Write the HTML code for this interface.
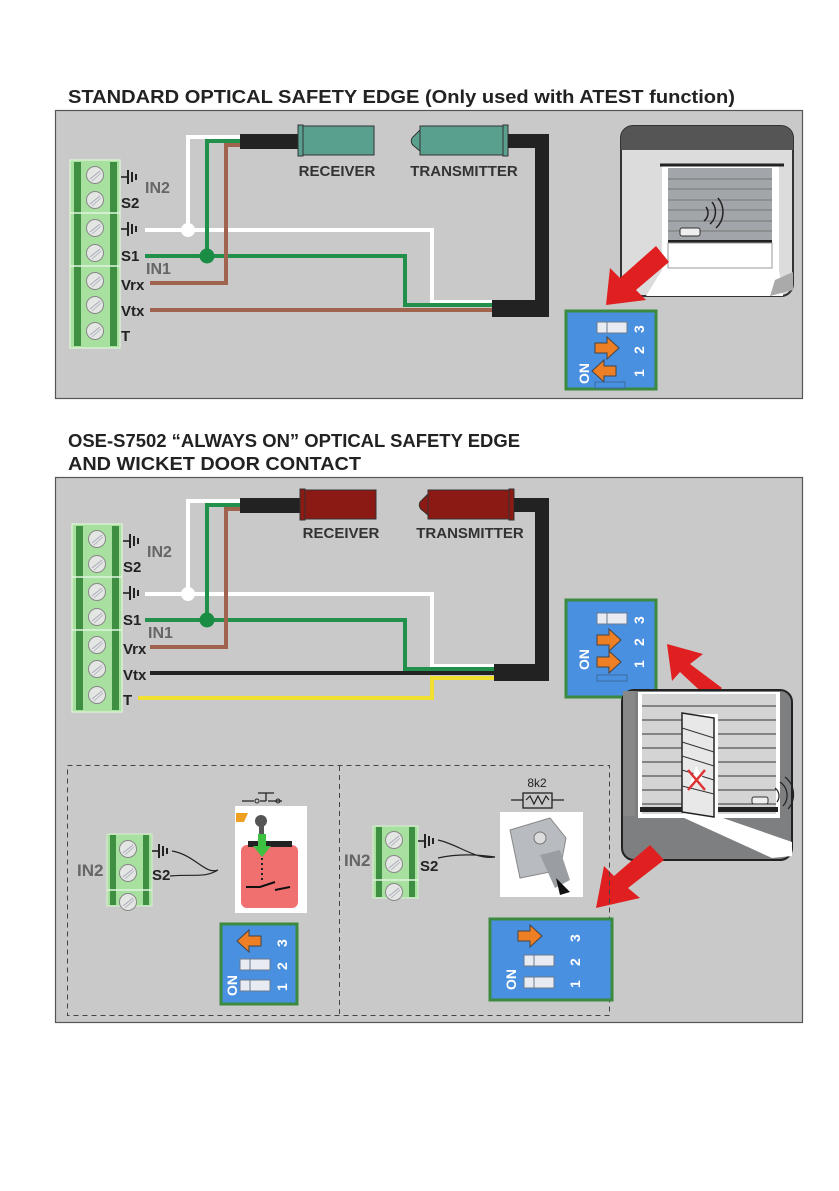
<!DOCTYPE html>
<html><head><meta charset="utf-8"><style>
html,body{margin:0;padding:0;background:#fff}
svg{display:block}
text{font-family:"Liberation Sans",sans-serif}
</style></head><body>
<svg width="839" height="1191" viewBox="0 0 839 1191" xmlns="http://www.w3.org/2000/svg">
<defs>
<g id="screw"><circle r="8.5" fill="#e4e6e4" stroke="#888" stroke-width="1"/><line x1="-5" y1="4" x2="5" y2="-4" stroke="#aab" stroke-width="1"/><line x1="-3" y1="6" x2="6" y2="-2" stroke="#aab" stroke-width="0.8"/></g>
<g id="gnd"><line x1="0" y1="0" x2="7" y2="0" stroke="#222" stroke-width="1.6"/><line x1="7" y1="-7" x2="7" y2="7" stroke="#222" stroke-width="2"/><line x1="11" y1="-5" x2="11" y2="5" stroke="#222" stroke-width="2"/><line x1="15" y1="-3" x2="15" y2="3" stroke="#222" stroke-width="2"/></g>
<g id="arrR"><polygon points="0,-5 12,-5 12,-11 24,0 12,11 12,5 0,5" fill="#ef7f24" stroke="#444" stroke-width="1"/></g>
<g id="arrL"><polygon points="24,-5 12,-5 12,-11 0,0 12,11 12,5 24,5" fill="#ef7f24" stroke="#444" stroke-width="1"/></g>
<g id="slide"><rect x="0" y="-5" width="30" height="11" fill="#e8ecf2" stroke="#6a7a90" stroke-width="1"/><line x1="10" y1="-5" x2="10" y2="6" stroke="#6a7a90"/></g>
</defs>

<!-- titles -->
<text x="68" y="103" font-size="18" font-weight="bold" fill="#222" textLength="667" lengthAdjust="spacingAndGlyphs">STANDARD OPTICAL SAFETY EDGE (Only used with ATEST function)</text>
<text x="68" y="447" font-size="18" font-weight="bold" fill="#222" textLength="452" lengthAdjust="spacingAndGlyphs">OSE-S7502 “ALWAYS ON” OPTICAL SAFETY EDGE</text>
<text x="68" y="470" font-size="18" font-weight="bold" fill="#222" textLength="293" lengthAdjust="spacingAndGlyphs">AND WICKET DOOR CONTACT</text>

<!-- PANEL 1 -->
<rect x="55.5" y="110.5" width="747" height="288" fill="#c8c9c8" stroke="#555" stroke-width="1.2"/>
<!-- terminal block 1 -->
<g>
<rect x="70" y="160" width="50" height="188" fill="#a8e0a0" stroke="#d8f0d0" stroke-width="1.5"/>
<rect x="74" y="162" width="7" height="184" fill="#3f8f42"/>
<rect x="110" y="162" width="7" height="184" fill="#3f8f42"/>
<line x1="70" y1="213" x2="120" y2="213" stroke="#e0f5e0" stroke-width="1.5"/>
<line x1="70" y1="266" x2="120" y2="266" stroke="#e0f5e0" stroke-width="1.5"/>
<use href="#screw" x="95" y="175"/><use href="#screw" x="95" y="200"/><use href="#screw" x="95" y="228"/><use href="#screw" x="95" y="253"/><use href="#screw" x="95" y="281"/><use href="#screw" x="95" y="305"/><use href="#screw" x="95" y="331"/>
</g>
<use href="#gnd" x="121" y="177"/><use href="#gnd" x="121" y="229"/>
<text x="145" y="193" font-size="16" font-weight="bold" fill="#666">IN2</text>
<text x="121" y="208" font-size="15" font-weight="bold" fill="#222">S2</text>
<text x="121" y="261" font-size="15" font-weight="bold" fill="#222">S1</text>
<text x="146" y="274" font-size="16" font-weight="bold" fill="#666">IN1</text>
<text x="121" y="290" font-size="15" font-weight="bold" fill="#222">Vrx</text>
<text x="121" y="316" font-size="15" font-weight="bold" fill="#222">Vtx</text>
<text x="121" y="341" font-size="15" font-weight="bold" fill="#222">T</text>
<!-- wires -->
<polyline points="145,230 432,230 432,302 495,302" fill="none" stroke="#fff" stroke-width="4"/>
<polyline points="188,230 188,137 242,137" fill="none" stroke="#fff" stroke-width="4"/>
<circle cx="188" cy="230" r="7" fill="#fff"/>
<polyline points="145,256 405,256 405,305 495,305" fill="none" stroke="#21904a" stroke-width="4"/>
<polyline points="207,256 207,141 242,141" fill="none" stroke="#21904a" stroke-width="4"/>
<circle cx="207" cy="256" r="7.5" fill="#1b8c44"/>
<polyline points="150,283 226,283 226,145 242,145" fill="none" stroke="#a0634e" stroke-width="4"/>
<line x1="150" y1="310" x2="495" y2="310" stroke="#a0634e" stroke-width="4"/>
<!-- cable -->
<rect x="240" y="134" width="62" height="15" fill="#222"/>
<rect x="300" y="126" width="74" height="29" fill="#5aa08f" stroke="#333"/>
<rect x="298" y="125" width="5" height="31" fill="#5aa08f" stroke="#333"/>
<path d="M420,130 L414,136 A6,6 0 0 0 414,146 L420,151 Z" fill="#5aa08f" stroke="#333"/>
<rect x="420" y="126" width="86" height="29" fill="#5aa08f" stroke="#333"/>
<rect x="503" y="125" width="5" height="31" fill="#5aa08f" stroke="#333"/>
<polyline points="508,141 542,141 542,307" fill="none" stroke="#222" stroke-width="14"/>
<rect x="492" y="300" width="57" height="17" fill="#222"/>
<text x="337" y="176" font-size="15" font-weight="bold" fill="#333" text-anchor="middle">RECEIVER</text>
<text x="464" y="176" font-size="15" font-weight="bold" fill="#333" text-anchor="middle">TRANSMITTER</text>
<!-- door 1 -->
<rect x="621" y="126" width="172" height="170" rx="12" fill="#dcdcdc" stroke="#333" stroke-width="2"/>
<path d="M621,150 L621,138 A12,12 0 0 1 633,126 L781,126 A12,12 0 0 1 793,138 L793,150 Z" fill="#555"/>
<rect x="662" y="165" width="117" height="105" fill="#fff"/>
<polygon points="662,270 779,270 783,296 646,296" fill="#fff"/>
<polygon points="775,280 793,272 793,290 770,296" fill="#aaa"/>
<rect x="668" y="168" width="104" height="72" fill="#a2a5a9"/>
<g stroke="#777" stroke-width="1"><line x1="668" y1="179" x2="772" y2="179"/><line x1="668" y1="189" x2="772" y2="189"/><line x1="668" y1="200" x2="772" y2="200"/><line x1="668" y1="210" x2="772" y2="210"/><line x1="668" y1="221" x2="772" y2="221"/><line x1="668" y1="231" x2="772" y2="231"/></g>
<rect x="668" y="240" width="104" height="3" fill="#222"/>
<rect x="668" y="243" width="104" height="25" fill="#fff" stroke="#999"/>
<line x1="660" y1="165" x2="784" y2="165" stroke="#222" stroke-width="3"/>
<rect x="680" y="228" width="20" height="8" rx="2" fill="#eee" stroke="#333"/>
<path d="M704,221 A10,10 0 0 0 706,207 M710,224 A16,16 0 0 0 712,202 M716,228 A22,22 0 0 0 718,198" fill="none" stroke="#222" stroke-width="1.5"/>
<polygon points="656,246 669,262 636,290 646,300 606,305 610,268 620,278" fill="#e02020"/>
<!-- DIP 1 -->
<rect x="566" y="311" width="90" height="78" fill="#4a90e0" stroke="#3a8a40" stroke-width="3"/>
<use href="#slide" x="597" y="327"/>
<use href="#arrR" x="595" y="348"/>
<use href="#arrL" x="592" y="371"/>
<rect x="595" y="382" width="30" height="6" fill="none" stroke="#3a6aa0" stroke-width="1"/>
<g font-size="14" font-weight="bold" fill="#fff">
<text transform="translate(644,333) rotate(-90)">3</text>
<text transform="translate(644,354) rotate(-90)">2</text>
<text transform="translate(644,377) rotate(-90)">1</text>
<text transform="translate(589,384) rotate(-90)">ON</text>
</g>

<!-- PANEL 2 -->
<rect x="55.5" y="477.5" width="747" height="545" fill="#c8c9c8" stroke="#555" stroke-width="1.2"/>
<g transform="translate(2,364)">
<rect x="70" y="160" width="50" height="188" fill="#a8e0a0" stroke="#d8f0d0" stroke-width="1.5"/>
<rect x="74" y="162" width="7" height="184" fill="#3f8f42"/>
<rect x="110" y="162" width="7" height="184" fill="#3f8f42"/>
<line x1="70" y1="213" x2="120" y2="213" stroke="#e0f5e0" stroke-width="1.5"/>
<line x1="70" y1="266" x2="120" y2="266" stroke="#e0f5e0" stroke-width="1.5"/>
<use href="#screw" x="95" y="175"/><use href="#screw" x="95" y="200"/><use href="#screw" x="95" y="228"/><use href="#screw" x="95" y="253"/><use href="#screw" x="95" y="281"/><use href="#screw" x="95" y="305"/><use href="#screw" x="95" y="331"/>
<use href="#gnd" x="121" y="177"/><use href="#gnd" x="121" y="229"/>
<text x="145" y="193" font-size="16" font-weight="bold" fill="#666">IN2</text>
<text x="121" y="208" font-size="15" font-weight="bold" fill="#222">S2</text>
<text x="121" y="261" font-size="15" font-weight="bold" fill="#222">S1</text>
<text x="146" y="274" font-size="16" font-weight="bold" fill="#666">IN1</text>
<text x="121" y="290" font-size="15" font-weight="bold" fill="#222">Vrx</text>
<text x="121" y="316" font-size="15" font-weight="bold" fill="#222">Vtx</text>
<text x="121" y="341" font-size="15" font-weight="bold" fill="#222">T</text>
<polyline points="143,230 430,230 430,302 493,302" fill="none" stroke="#fff" stroke-width="4"/>
<polyline points="186,230 186,137 240,137" fill="none" stroke="#fff" stroke-width="4"/>
<circle cx="186" cy="230" r="7" fill="#fff"/>
<polyline points="143,256 403,256 403,305 493,305" fill="none" stroke="#21904a" stroke-width="4"/>
<polyline points="205,256 205,141 240,141" fill="none" stroke="#21904a" stroke-width="4"/>
<circle cx="205" cy="256" r="7.5" fill="#1b8c44"/>
<polyline points="148,283 224,283 224,145 240,145" fill="none" stroke="#a0634e" stroke-width="4"/>
<line x1="148" y1="309" x2="493" y2="309" stroke="#222" stroke-width="4"/>
<polyline points="136,334 430,334 430,314 493,314" fill="none" stroke="#f2e030" stroke-width="4"/>
<rect x="238" y="134" width="62" height="15" fill="#222"/>
<rect x="300" y="126" width="74" height="29" fill="#8c1a14" stroke="#333"/>
<rect x="298" y="125" width="5" height="31" fill="#8c1a14" stroke="#333"/>
<path d="M426,130 L420,136 A6,6 0 0 0 420,146 L426,151 Z" fill="#8c1a14" stroke="#333"/>
<rect x="426" y="126" width="84" height="29" fill="#8c1a14" stroke="#333"/>
<rect x="507" y="125" width="5" height="31" fill="#8c1a14" stroke="#333"/>
<polyline points="512,141 540,141 540,307" fill="none" stroke="#222" stroke-width="14"/>
<rect x="492" y="300" width="55" height="17" fill="#222"/>
<text x="339" y="174" font-size="15" font-weight="bold" fill="#333" text-anchor="middle">RECEIVER</text>
<text x="468" y="174" font-size="15" font-weight="bold" fill="#333" text-anchor="middle">TRANSMITTER</text>
</g>
<!-- DIP 2 -->
<rect x="566" y="600" width="90" height="97" fill="#4a90e0" stroke="#3a8a40" stroke-width="3"/>
<use href="#slide" x="597" y="618"/>
<use href="#arrR" x="597" y="640"/>
<use href="#arrR" x="597" y="662"/>
<rect x="597" y="675" width="30" height="6" fill="none" stroke="#3a6aa0"/>
<g font-size="14" font-weight="bold" fill="#fff">
<text transform="translate(644,624) rotate(-90)">3</text>
<text transform="translate(644,646) rotate(-90)">2</text>
<text transform="translate(644,668) rotate(-90)">1</text>
<text transform="translate(589,670) rotate(-90)">ON</text>
</g>
<polygon points="722,688 690,664 703,654 667,644 672,681 680,672 710,700" fill="#e02020"/>
<!-- door 2 -->
<rect x="622" y="690" width="170" height="170" rx="12" fill="#7d7f80" stroke="#222" stroke-width="2"/>
<rect x="623" y="691" width="12" height="125" fill="#888"/>
<rect x="638" y="692" width="142" height="126" fill="#fff"/>
<rect x="642" y="694" width="134" height="120" fill="#d4d4d4"/>
<g stroke="#333" stroke-width="1"><line x1="642" y1="706" x2="776" y2="706"/><line x1="642" y1="720" x2="776" y2="720"/><line x1="642" y1="734" x2="776" y2="734"/><line x1="642" y1="748" x2="776" y2="748"/><line x1="642" y1="762" x2="776" y2="762"/><line x1="642" y1="776" x2="776" y2="776"/><line x1="642" y1="790" x2="776" y2="790"/><line x1="642" y1="804" x2="776" y2="804"/></g>
<rect x="640" y="807" width="138" height="5" fill="#222"/>
<polygon points="682,817 720,817 792,842 792,856 772,858" fill="#fff"/>
<polygon points="684,714 718,714 718,816 684,818" fill="#fff"/>
<polygon points="682,713 714,718 714,817 682,812" fill="#e8e8e8" stroke="#222" stroke-width="1.5"/>
<g stroke="#333"><line x1="682" y1="728" x2="714" y2="738"/><line x1="682" y1="742" x2="714" y2="752"/><line x1="682" y1="756" x2="714" y2="766"/><line x1="682" y1="770" x2="714" y2="780"/><line x1="682" y1="786" x2="714" y2="794"/></g>
<polygon points="696,766 704,780 690,784" fill="#fff"/>
<path d="M688,770 L705,790 M705,770 L688,790" stroke="#d33" stroke-width="2.5"/>
<rect x="752" y="797" width="16" height="7" rx="2" fill="#eee" stroke="#333"/>
<path d="M775,788 A10,10 0 0 1 777,802 M780,782 A16,16 0 0 1 783,806 M785,777 A22,22 0 0 1 788,809" fill="none" stroke="#222" stroke-width="1.2"/>
<polygon points="650,845 664,860 628,888 640,898 596,908 604,866 614,876" fill="#e02020"/>
<!-- dashed box -->
<rect x="67.5" y="765.5" width="542" height="250" fill="none" stroke="#444" stroke-width="1" stroke-dasharray="5,4"/>
<line x1="339.5" y1="766" x2="339.5" y2="1015" stroke="#444" stroke-dasharray="5,4"/>
<!-- left sub -->
<rect x="107" y="834" width="45" height="72" fill="#a8e0a0" stroke="#d8f0d0"/>
<rect x="110" y="835" width="6" height="70" fill="#3f8f42"/><rect x="143" y="835" width="6" height="70" fill="#3f8f42"/>
<line x1="107" y1="890" x2="152" y2="890" stroke="#e0f5e0" stroke-width="1.5"/>
<use href="#screw" x="128" y="849"/><use href="#screw" x="128" y="873"/><use href="#screw" x="128" y="902"/>
<use href="#gnd" x="152" y="851"/>
<text x="77" y="876" font-size="17" font-weight="bold" fill="#666">IN2</text>
<text x="152" y="880" font-size="15" font-weight="bold" fill="#222">S2</text>
<path d="M172,851 C195,855 205,875 218,870 M170,876 C195,874 205,878 218,870" fill="none" stroke="#222" stroke-width="1.2"/>
<rect x="235" y="806" width="72" height="107" fill="#fff"/>
<rect x="241" y="845" width="57" height="63" rx="6" fill="#f07070"/>
<rect x="248" y="841" width="44" height="6" fill="#222"/>
<polygon points="236,813 248,813 244,822 236,822" fill="#f0a020"/>
<circle cx="261" cy="821" r="6" fill="#555"/>
<rect x="259" y="822" width="5" height="20" fill="#555"/>
<polygon points="258,834 266,834 266,846 271,846 262,857 253,846 258,846" fill="#3ec040"/>
<line x1="262" y1="858" x2="262" y2="882" stroke="#222" stroke-width="2" stroke-dasharray="2,3"/>
<path d="M246,887 L260,887 L275,882 M275,890 L290,887" stroke="#111" stroke-width="2" fill="none"/>
<path d="M242,801 L254,801 M260,801 L266,801 M266,801 L266,793 M258,793 L274,793 M268,801 L282,801" stroke="#222" stroke-width="1.3"/>
<circle cx="257" cy="801" r="2" fill="none" stroke="#222"/><circle cx="278" cy="801" r="2" fill="none" stroke="#222"/>
<!-- DIP 4 -->
<rect x="221" y="924" width="76" height="80" fill="#4a90e0" stroke="#3a8a40" stroke-width="3"/>
<use href="#arrL" x="237" y="941"/>
<use href="#slide" x="240" y="964"/>
<use href="#slide" x="240" y="985"/>
<g font-size="14" font-weight="bold" fill="#fff">
<text transform="translate(287,947) rotate(-90)">3</text>
<text transform="translate(287,970) rotate(-90)">2</text>
<text transform="translate(287,991) rotate(-90)">1</text>
<text transform="translate(237,996) rotate(-90)">ON</text>
</g>
<!-- right sub -->
<rect x="373" y="826" width="45" height="72" fill="#a8e0a0" stroke="#d8f0d0"/>
<rect x="376" y="827" width="6" height="70" fill="#3f8f42"/><rect x="409" y="827" width="6" height="70" fill="#3f8f42"/>
<line x1="373" y1="880" x2="418" y2="880" stroke="#e0f5e0" stroke-width="1.5"/>
<use href="#screw" x="394" y="840"/><use href="#screw" x="394" y="864"/><use href="#screw" x="394" y="892"/>
<use href="#gnd" x="418" y="841"/>
<text x="344" y="866" font-size="17" font-weight="bold" fill="#666">IN2</text>
<text x="420" y="871" font-size="15" font-weight="bold" fill="#222">S2</text>
<path d="M438,840 C460,845 475,860 495,857 M438,858 C460,853 480,855 495,857" fill="none" stroke="#222" stroke-width="1.2"/>
<rect x="500" y="812" width="83" height="85" fill="#fff"/>
<polygon points="510,830 550,818 566,838 560,870 520,878" fill="#b8bcc0" stroke="#888"/>
<polygon points="540,855 560,850 570,880 555,888" fill="#9a9ea2"/>
<path d="M556,878 L570,892 L560,895 Z" fill="#111"/>
<circle cx="540" cy="838" r="6" fill="#ddd" stroke="#777"/>
<text x="537" y="787" font-size="12" fill="#222" text-anchor="middle">8k2</text>
<rect x="523" y="793" width="29" height="15" fill="none" stroke="#222" stroke-width="1.3"/>
<path d="M511,800 L523,800 M552,800 L564,800 M526,800 L530,796 L534,804 L538,796 L542,804 L546,796 L549,800" fill="none" stroke="#222" stroke-width="1.2"/>
<!-- DIP 3 -->
<rect x="490" y="919" width="122" height="81" fill="#4a90e0" stroke="#3a8a40" stroke-width="3"/>
<use href="#arrR" x="518" y="936"/>
<use href="#slide" x="524" y="960"/>
<use href="#slide" x="524" y="982"/>
<g font-size="14" font-weight="bold" fill="#fff">
<text transform="translate(580,942) rotate(-90)">3</text>
<text transform="translate(580,966) rotate(-90)">2</text>
<text transform="translate(580,988) rotate(-90)">1</text>
<text transform="translate(516,990) rotate(-90)">ON</text>
</g>
</svg>
</body></html>
